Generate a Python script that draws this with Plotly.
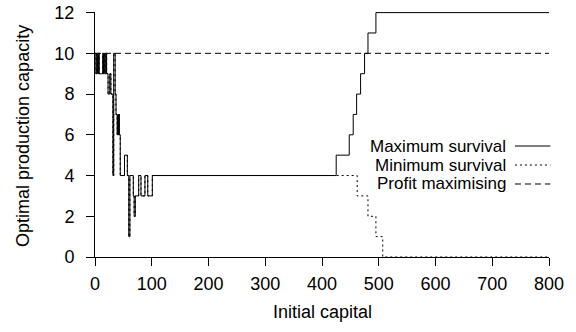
import plotly.graph_objects as go

# Maximum survival (step function, value holds until next x)
max_x = [0, 1.5, 3, 4.5, 6, 7.5, 9, 13.5, 15, 16.5, 18, 19.5, 20.5, 23, 26, 28, 31.5, 33,
         35.5, 37, 39, 40, 41, 42, 43, 44.5, 52, 57, 59.5, 61.5, 67.5, 69, 71, 77, 81,
         88, 93, 101, 425, 448, 455, 461, 468, 475, 481, 495, 800]
max_y = [10, 9, 10, 9, 10, 9, 9, 10, 9, 10, 9, 10, 9, 8, 9, 8, 4, 10,
         8, 7, 6, 7, 6, 7, 6, 4, 5, 4, 1, 4, 3, 2, 3, 4, 3,
         4, 3, 4, 5, 6, 7, 8, 9, 10, 11, 12, 12]

# Minimum survival
min_x = [0, 1.5, 3, 4.5, 6, 7.5, 9, 13.5, 15, 16.5, 18, 19.5, 20.5, 23, 26, 28, 31.5, 33,
         35.5, 37, 39, 40, 41, 42, 43, 44.5, 52, 57, 59.5, 61.5, 67.5, 69, 71, 77, 81,
         88, 93, 101, 462, 481, 495, 507, 800]
min_y = [10, 9, 10, 9, 10, 9, 9, 10, 9, 10, 9, 10, 9, 8, 9, 8, 4, 10,
         8, 7, 6, 7, 6, 7, 6, 4, 5, 4, 1, 4, 3, 2, 3, 4, 3,
         4, 3, 4, 3, 2, 1, 0, 0]

# Profit maximising
profit_x = [0, 800]
profit_y = [10, 10]

series_names = ["Maximum survival", "Minimum survival", "Profit maximising"]
x_ticks = [0, 100, 200, 300, 400, 500, 600, 700, 800]
y_ticks = [0, 2, 4, 6, 8, 10, 12]
x_title = "Initial capital"
y_title = "Optimal production capacity"

FONT = "Liberation Sans, Arial, sans-serif"
FS = 18
dashes = ["solid", "2px,3px", "6px,4px"]

fig = go.Figure()
fig.add_trace(go.Scatter(x=profit_x, y=profit_y, mode="lines", line_shape="hv",
                         line=dict(color="black", width=1, dash=dashes[2]),
                         name=series_names[2], showlegend=False))
fig.add_trace(go.Scatter(x=min_x, y=min_y, mode="lines", line_shape="hv",
                         line=dict(color="black", width=1, dash=dashes[1]),
                         name=series_names[1], showlegend=False))
fig.add_trace(go.Scatter(x=max_x, y=max_y, mode="lines", line_shape="hv",
                         line=dict(color="black", width=1, dash=dashes[0]),
                         name=series_names[0], showlegend=False))

# gnuplot-style key: text right-aligned, sample line to the right
key_y = [0.453, 0.3755, 0.298]
shapes = []
annotations = []
for name, dash, yy in zip(series_names, dashes, key_y):
    annotations.append(dict(xref="paper", yref="paper", x=0.91, y=yy, text=name,
                            showarrow=False, xanchor="right", yanchor="middle",
                            font=dict(family=FONT, size=17, color="black")))
    shapes.append(dict(type="line", xref="paper", yref="paper",
                       x0=0.925, x1=1.003, y0=yy, y1=yy,
                       line=dict(color="black", width=1, dash=dash)))

annotations.append(dict(xref="paper", yref="paper", x=0.5, y=-0.2245, text=x_title,
                        showarrow=False, xanchor="center", yanchor="middle",
                        font=dict(family=FONT, size=FS, color="black")))
annotations.append(dict(xref="paper", yref="paper", x=-0.1586, y=0.494, text=y_title,
                        showarrow=False, xanchor="center", yanchor="middle",
                        textangle=-90,
                        font=dict(family=FONT, size=FS, color="black")))

fig.update_layout(
    width=576, height=332,
    margin=dict(l=95, r=27, t=12, b=75),
    paper_bgcolor="white", plot_bgcolor="white",
    font=dict(family=FONT, size=FS, color="black"),
    shapes=shapes, annotations=annotations,
    hovermode=False,
    xaxis=dict(range=[0, 800], tickvals=x_ticks, ticks="outside", ticklen=8,
               tickwidth=1, tickcolor="black", showline=True, linecolor="black",
               linewidth=1, showgrid=False, zeroline=False, automargin=False,
               ticklabelstandoff=2,
               tickfont=dict(family=FONT, size=FS)),
    yaxis=dict(range=[0, 12.03], tickvals=y_ticks, ticks="outside", ticklen=8,
               tickwidth=1, tickcolor="black", showline=True, linecolor="black",
               linewidth=1, showgrid=False, zeroline=False, automargin=False,
               ticklabelstandoff=8,
               tickfont=dict(family=FONT, size=FS)),
)

fig.write_html("out.html",
               config={"displayModeBar": False},
               post_script="document.body.style.margin='0px';"
                           "document.body.style.padding='0px';")
